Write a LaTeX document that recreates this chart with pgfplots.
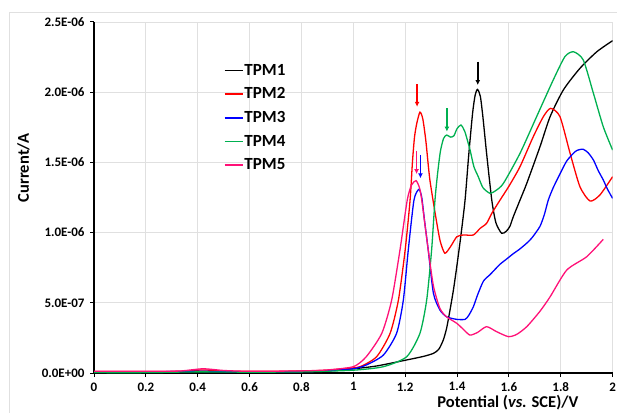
\documentclass[border=0pt]{standalone}
\usepackage{fontspec}
\setmainfont{Carlito}
\usepackage{pgfplots}
\pgfplotsset{compat=1.18}
\usetikzlibrary{arrows.meta}
\definecolor{tpmgreen}{HTML}{00B050}
\definecolor{tpmpink}{HTML}{FF1177}
\begin{document}
\begin{tikzpicture}
\useasboundingbox (0,0) rectangle (617pt,412pt);
\draw[black!12, line width=0.8pt] (9pt,400pt) rectangle (640pt,-20pt);
\begin{axis}[
  at={(94pt,39pt)}, anchor=south west,
  scale only axis, width=518.6pt, height=351pt,
  xmin=0, xmax=2, ymin=0, ymax=2.5,
  axis lines=left,
  axis line style={-, line width=1.3pt, black},
  tick align=outside, major tick length=4pt,
  tick style={black, line width=1pt},
  grid=major, grid style={black!12, line width=0.8pt},
  xtick={0,0.2,0.4,0.6,0.8,1,1.2,1.4,1.6,1.8,2},
  xticklabels={0,0.2,0.4,0.6,0.8,1,1.2,1.4,1.6,1.8,2},
  ytick={0,0.5,1,1.5,2,2.5},
  yticklabels={0.0E+00,5.0E-07,1.0E-06,1.5E-06,2.0E-06,2.5E-06},
  /pgf/number format/assume math mode=true,
  ticklabel style={font=\bfseries\fontsize{13}{15}\selectfont},
  yticklabel style={xshift=-2pt},
  xticklabel style={yshift=-2pt},
  xlabel={Potential (\textit{vs.} SCE)/V},
  ylabel={Current/A},
  xlabel style={font=\bfseries\fontsize{16.5}{19}\selectfont, at={(axis description cs:0.798,-0.085)}, anchor=center},
  ylabel style={font=\bfseries\fontsize{16.5}{19}\selectfont, at={(axis description cs:-0.136,0.584)}, anchor=center},
  legend style={draw=none, fill=none, at={(axis description cs:0.25,0.883)}, anchor=north west,
    font=\bfseries\fontsize{17}{20}\selectfont, row sep=9pt, inner sep=0pt,
    nodes={inner sep=1pt}},
  legend cell align=left,
  legend image code/.code={\draw[#1, line width=1.6pt] (0pt,0pt) -- (18pt,0pt);},
  every axis plot/.append style={line width=1.3pt, smooth, tension=0.4},
]
% TPM1
\addplot[black] coordinates {
(0,0.005) (0.2,0.005) (0.4,0.01) (0.6,0.008) (0.8,0.01) (0.9,0.015) (1.0,0.03)
(1.09,0.05) (1.206,0.093) (1.27,0.118) (1.309,0.14) (1.33,0.17) (1.347,0.235)
(1.36,0.32) (1.373,0.449) (1.386,0.59) (1.399,0.757) (1.415,0.98) (1.431,1.232)
(1.445,1.55) (1.46,1.85) (1.47,1.98) (1.479,2.02) (1.49,1.97) (1.5,1.82)
(1.514,1.565) (1.534,1.232) (1.55,1.07) (1.572,0.995) (1.59,1.01) (1.604,1.045)
(1.617,1.113) (1.643,1.232) (1.669,1.351) (1.72,1.612) (1.759,1.826)
(1.81,2.016) (1.874,2.17) (1.939,2.288) (2.0,2.367)
};
\addlegendentry{TPM1}
% TPM2
\addplot[red] coordinates {
(0,0.01) (0.2,0.01) (0.35,0.013) (0.42,0.022) (0.5,0.014) (0.6,0.012) (0.8,0.014)
(0.9,0.02) (0.97,0.032) (1.026,0.045) (1.09,0.116) (1.142,0.283) (1.174,0.52)
(1.2,0.876) (1.219,1.232) (1.228,1.5) (1.236,1.68) (1.245,1.78) (1.257,1.858)
(1.268,1.81) (1.28,1.65) (1.295,1.38) (1.32,1.09) (1.335,0.94) (1.353,0.853)
(1.375,0.9) (1.399,0.97) (1.424,0.983) (1.463,0.983) (1.489,1.03) (1.514,1.066)
(1.534,1.137) (1.566,1.232) (1.6,1.33) (1.643,1.47) (1.694,1.683) (1.733,1.826)
(1.761,1.885) (1.797,1.826) (1.836,1.565) (1.874,1.327) (1.913,1.225)
(1.951,1.268) (2.0,1.398)
};
\addlegendentry{TPM2}
% TPM3
\addplot[blue] coordinates {
(0,0.008) (0.2,0.008) (0.4,0.012) (0.6,0.008) (0.8,0.01) (0.9,0.015) (1.0,0.03)
(1.05,0.057) (1.116,0.128) (1.167,0.283) (1.193,0.52) (1.212,0.876) (1.234,1.232)
(1.253,1.308) (1.264,1.25) (1.275,1.08) (1.289,0.876) (1.309,0.567) (1.334,0.449)
(1.36,0.40) (1.399,0.382) (1.431,0.382) (1.445,0.41) (1.463,0.472) (1.48,0.56)
(1.502,0.655) (1.527,0.70) (1.545,0.735) (1.566,0.775) (1.59,0.81) (1.617,0.85)
(1.64,0.88) (1.669,0.925) (1.69,0.965) (1.72,1.045) (1.737,1.13)
(1.752,1.232) (1.771,1.32) (1.795,1.41) (1.823,1.51) (1.855,1.576) (1.87,1.59)
(1.887,1.593) (1.905,1.57) (1.926,1.517) (1.945,1.44) (1.964,1.375) (1.98,1.31)
(2.0,1.244)
};
\addlegendentry{TPM3}
% TPM4
\addplot[tpmgreen] coordinates {
(0,0.003) (0.2,0.003) (0.4,0.008) (0.6,0.006) (0.8,0.008) (1.0,0.02)
(1.116,0.045) (1.206,0.116) (1.257,0.283) (1.283,0.52) (1.302,0.876) (1.315,1.232)
(1.325,1.42) (1.336,1.58) (1.348,1.67) (1.36,1.695) (1.375,1.68) (1.388,1.69)
(1.4,1.74) (1.415,1.766) (1.43,1.72) (1.45,1.59) (1.465,1.47) (1.482,1.398)
(1.5,1.32) (1.527,1.28) (1.55,1.3) (1.579,1.351) (1.643,1.565) (1.707,1.826)
(1.771,2.087) (1.816,2.253) (1.849,2.288) (1.887,2.229) (1.926,1.992)
(1.964,1.754) (2.0,1.588)
};
\addlegendentry{TPM4}
% TPM5
\addplot[tpmpink] coordinates {
(0,0.012) (0.2,0.012) (0.33,0.014) (0.42,0.03) (0.5,0.018) (0.6,0.012) (0.8,0.015)
(0.9,0.022) (1.0,0.045) (1.05,0.116) (1.11,0.283) (1.148,0.52) (1.18,0.876)
(1.208,1.232) (1.225,1.34) (1.242,1.370) (1.255,1.32) (1.264,1.232) (1.289,0.876)
(1.309,0.62) (1.334,0.46) (1.36,0.40) (1.399,0.354) (1.425,0.31) (1.45,0.27)
(1.48,0.29) (1.514,0.33) (1.553,0.294) (1.598,0.259) (1.63,0.275) (1.669,0.33)
(1.72,0.44) (1.759,0.543) (1.823,0.733) (1.9,0.828) (1.964,0.952)
};
\addlegendentry{TPM5}
% arrows
\draw[red, line width=1.5pt, -{Latex[length=5pt,width=5pt]}] (axis cs:1.246,2.056) -- (axis cs:1.246,1.896);
\draw[black, line width=1.5pt, -{Latex[length=5pt,width=5pt]}] (axis cs:1.48,2.217) -- (axis cs:1.48,2.051);
\draw[tpmgreen, line width=1.5pt, -{Latex[length=5pt,width=5pt]}] (axis cs:1.361,1.885) -- (axis cs:1.361,1.719);
\draw[tpmpink, line width=1.5pt, -{Latex[length=5pt,width=5pt]}] (axis cs:1.244,1.583) -- (axis cs:1.244,1.417);
\draw[blue, line width=1.5pt, -{Latex[length=5pt,width=5pt]}] (axis cs:1.259,1.553) -- (axis cs:1.259,1.387);
\end{axis}
\end{tikzpicture}
\end{document}
